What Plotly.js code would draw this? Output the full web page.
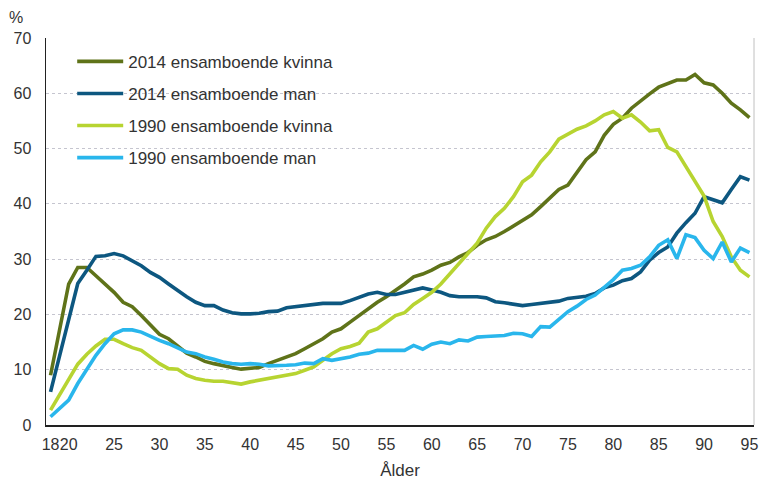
<!DOCTYPE html>
<html>
<head>
<meta charset="utf-8">
<script src="https://cdn.plot.ly/plotly-3.0.1.min.js"></script>
<style>html,body{margin:0;padding:0;background:#fff;}#chart{width:763px;height:481px;}</style>
</head>
<body>
<div id="chart"></div>
<script>
const ages = [];
for (let a = 18; a <= 95; a++) ages.push(a);

const kvinna2014 = [9.0,17.5,25.5,28.5,28.5,27.0,25.5,24.0,22.2,21.4,19.8,18.0,16.4,15.6,14.4,13.0,12.3,11.5,11.1,10.7,10.4,10.1,10.3,10.4,11.1,11.7,12.3,12.9,13.8,14.7,15.6,16.8,17.4,18.6,19.8,21.0,22.2,23.2,24.3,25.5,26.8,27.3,28.0,28.9,29.4,30.4,31.2,32.5,33.5,34.1,35.0,36.0,37.1,38.0,39.5,41.0,42.6,43.4,45.8,48.0,49.4,52.4,54.4,55.5,57.3,58.5,59.9,61.1,61.8,62.4,62.4,63.4,61.9,61.5,60.0,58.2,57.0,55.6];
const man2014 = [6.0,12.4,19.0,25.6,28.0,30.5,30.6,31.0,30.6,29.7,28.8,27.6,26.7,25.5,24.3,23.2,22.2,21.6,21.6,20.8,20.3,20.1,20.1,20.2,20.5,20.6,21.2,21.4,21.6,21.8,22.0,22.0,22.0,22.5,23.1,23.7,24.0,23.6,23.6,24.0,24.4,24.8,24.4,24.0,23.4,23.2,23.2,23.2,23.0,22.3,22.1,21.9,21.6,21.8,22.0,22.1,22.4,22.9,23.1,23.3,23.8,24.8,25.3,26.1,26.5,27.7,29.8,31.2,32.2,34.7,36.6,38.3,41.3,40.8,40.2,42.6,44.9,44.3];
const kvinna1990 = [2.7,5.5,8.5,11.0,12.8,14.3,15.5,15.5,14.7,14.0,13.5,12.3,11.1,10.2,10.1,9.0,8.4,8.1,7.9,7.9,7.6,7.4,7.8,8.1,8.3,8.6,9.0,9.3,9.9,10.5,11.7,12.9,13.8,14.2,14.8,16.8,17.4,18.6,19.8,20.3,21.8,22.9,24.0,25.5,27.3,29.1,30.9,32.9,35.6,37.7,39.2,41.3,44.0,45.2,47.6,49.4,51.7,52.6,53.5,54.1,55.0,56.1,56.7,55.5,56.1,54.8,53.2,53.4,50.2,49.4,46.7,44.3,41.4,36.8,34.1,30.4,28.0,26.8];
const man1990 = [1.5,3.0,4.5,7.5,10.2,12.6,14.7,16.5,17.2,17.2,16.8,16.0,15.3,14.7,14.0,13.2,12.9,12.3,11.9,11.4,11.1,11.0,11.1,11.0,10.7,10.7,10.8,10.9,11.2,11.1,12.0,11.7,12.0,12.3,12.8,13.0,13.5,13.5,13.5,13.5,14.4,13.7,14.6,15.0,14.7,15.4,15.2,15.9,16.0,16.1,16.2,16.6,16.5,16.0,17.8,17.7,19.1,20.5,21.5,22.7,23.5,24.8,26.3,28.0,28.3,28.9,30.4,32.5,33.5,30.1,34.4,33.9,31.6,30.1,33.1,29.5,32.0,31.2];

const seriesNames = ["2014 ensamboende kvinna","2014 ensamboende man","1990 ensamboende kvinna","1990 ensamboende man"];
const xTicks = [18,20,25,30,35,40,45,50,55,60,65,70,75,80,85,90,95];

const colors = ["#5F7319","#0D5780","#B7D431","#29B6EC"];
const series = [kvinna2014, man2014, kvinna1990, man1990];

const traces = series.map((ys, i) => ({
  x: ages, y: ys, type: 'scatter', mode: 'lines',
  name: seriesNames[i], legendgroup: 'g' + i,
  line: {color: colors[i], width: 3.6, shape: 'linear'},
  hoverinfo: 'skip'
}));

const fam = 'Liberation Sans, Arial, sans-serif';
const tickFont = {family: fam, size: 16, color: '#333333'};
const titleFont = {family: fam, size: 17, color: '#333333'};

const layout = {
  width: 763, height: 481,
  margin: {l: 46, r: 9, t: 38, b: 56, pad: 0},
  paper_bgcolor: '#ffffff', plot_bgcolor: '#ffffff',
  font: tickFont,
  showlegend: true,
  legend: {
    x: 0.037, y: 0.985, xanchor: 'left', yanchor: 'top',
    bgcolor: 'rgba(0,0,0,0)', borderwidth: 0,
    traceorder: 'grouped', tracegroupgap: 7,
    itemwidth: 46,
    font: {family: fam, size: 17, color: '#333333'}
  },
  xaxis: {
    range: [17.5, 95.5],
    tickmode: 'array', tickvals: xTicks, ticktext: xTicks.map(String),
    tickangle: 0, automargin: false,
    showgrid: false, zeroline: false,
    showline: true, linecolor: '#222222', linewidth: 1.5,
    ticks: 'outside', ticklen: 4, tickcolor: 'rgba(0,0,0,0)',
    tickfont: tickFont,
    title: {text: 'Ålder', font: titleFont, standoff: 12}
  },
  yaxis: {
    range: [0, 70], tickmode: 'linear', tick0: 0, dtick: 10,
    showgrid: true, gridcolor: '#c5c5cf', griddash: 'dot', gridwidth: 1,
    zeroline: false,
    showline: true, linecolor: '#222222', linewidth: 1.5,
    ticks: 'outside', ticklen: 10, tickcolor: 'rgba(0,0,0,0)',
    tickfont: tickFont
  },
  shapes: [
    {type: 'line', xref: 'paper', yref: 'paper', x0: 1, x1: 1, y0: 0, y1: 1,
     line: {color: '#c0c0c0', width: 1}}
  ],
  annotations: [
    {text: '%', xref: 'paper', yref: 'paper', x: -0.043, y: 1.052, xanchor: 'center', yanchor: 'middle',
     showarrow: false, font: tickFont}
  ]
};

Plotly.newPlot('chart', traces, layout, {staticPlot: true, displayModeBar: false});
</script>
</body>
</html>
